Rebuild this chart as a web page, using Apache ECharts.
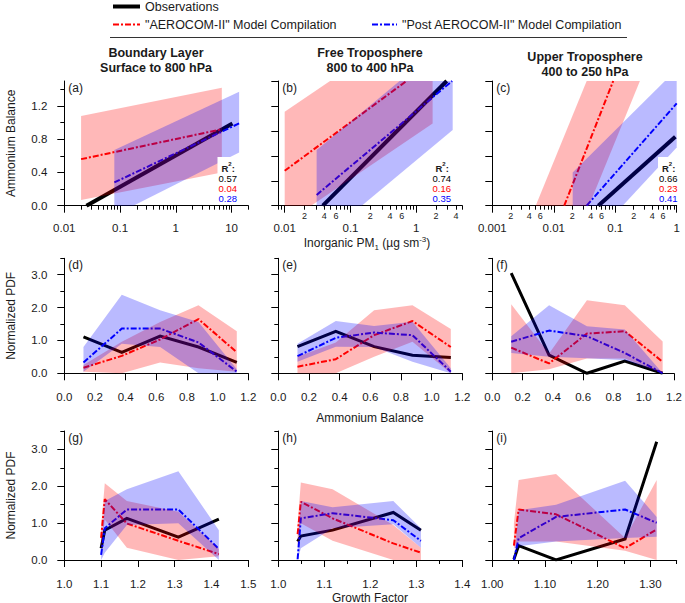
<!DOCTYPE html>
<html>
<head>
<meta charset="utf-8">
<title>Ammonium balance and growth factor</title>
<script src="https://cdn.jsdelivr.net/npm/echarts@6/dist/echarts.min.js"></script>
<style>
html,body{margin:0;padding:0;background:#fff;}
#chart{width:685px;height:603px;}
</style>
</head>
<body>
<div id="chart"></div>
<script>
// ================= DATA =================
// Row 1 : Ammonium Balance vs Inorganic PM1 (fit lines and fit ranges)
const aObsX = [0.025, 10.4],  aObsY = [0, 0.99];
const aAeroX = [0.02, 6.7],   aAeroY = [0.56, 0.92];
const aPostX = [0.079, 13.7], aPostY = [0.28, 0.99];
const aAeroBandX = [0.02, 0.02, 6.7, 6.7],             aAeroBandY = [0.07, 1.08, 1.42, 0.40];
const aPostBandX = [0.079, 0.079, 13.7, 13.7, 0.173],  aPostBandY = [0, 0.67, 1.37, 0.64, 0];
const aR2 = ['0.57', '0.04', '0.28'];

const bObsX = [0.038, 2.9],   bObsY = [0, 1.5];
const bAeroX = [0.01, 0.71],  bAeroY = [0.42, 1.5];
const bPostX = [0.0306, 3.5], bPostY = [0.13, 1.5];
const bAeroBandX = [0.01, 0.01, 0.0489, 1.77, 1.77, 0.0252],   bAeroBandY = [0, 1.13, 1.5, 1.5, 0.99, 0];
const bPostBandX = [0.0306, 0.0306, 0.558, 3.57, 3.57, 0.148], bPostBandY = [0, 0.67, 1.5, 1.5, 0.91, 0];
const bR2 = ['0.74', '0.16', '0.35'];

const cObsX = [0.053, 0.95],   cObsY = [0, 0.83];
const cAeroX = [0.0148, 0.0927], cAeroY = [0, 1.5];
const cPostX = [0.0343, 1.0],  cPostY = [0, 1.23];
const cAeroBandX = [0.00508, 0.0343, 0.252, 0.0373],        cAeroBandY = [0, 1.5, 1.5, 0];
const cPostBandX = [0.0203, 0.0203, 0.643, 1, 1, 0.132],    cPostBandY = [0, 0.40, 1.5, 1.5, 0.70, 0];
const cR2 = ['0.66', '0.23', '0.41'];

// Row 2 : Normalized PDF vs Ammonium Balance
const abBins = [0.125, 0.375, 0.625, 0.875, 1.125];
const dObs  = [1.11, 0.64, 1.13, 0.80, 0.33];
const dAero = [0.17, 0.53, 1.03, 1.65, 0.64];
const dPost = [0.33, 1.36, 1.36, 0.94, 0.05];
const dAeroHi = [0.25, 0.96, 1.56, 2.07, 1.28], dAeroLo = [0.05, 0.0, 0.33, 0.15, 0.05];
const dPostHi = [0.80, 2.39, 1.92, 1.56, 0.12], dPostLo = [0.05, 0.90, 0.80, 0.0, 0.0];

const eObs  = [0.81, 1.28, 0.81, 0.55, 0.48];
const eAero = [0.20, 0.43, 1.16, 1.59, 0.80];
const ePost = [0.52, 1.08, 1.24, 1.16, 0.05];
const eAeroHi = [0.50, 0.94, 1.92, 2.07, 1.35], eAeroLo = [0.0, 0.0, 0.50, 0.96, 0.0];
const ePostHi = [0.90, 1.59, 1.44, 1.57, 0.15], ePostLo = [0.35, 0.81, 0.80, 0.35, 0.0];

const fObs  = [3.05, 0.55, 0.0, 0.37, 0.0];
const fAero = [0.78, 0.30, 1.21, 1.28, 0.35];
const fPost = [0.96, 1.30, 1.13, 0.62, 0.0];
const fAeroHi = [2.10, 0.60, 2.22, 2.07, 0.97], fAeroLo = [0.0, 0.12, 0.45, 0.45, 0.0];
const fPostHi = [1.13, 2.07, 1.43, 1.33, 0.0],  fPostLo = [0.62, 0.50, 0.46, 0.40, 0.0];

// Row 3 : Normalized PDF vs Growth Factor
const gGF   = [1.10, 1.11, 1.17, 1.31, 1.42];
const gObs  = [0.32, 0.81, 1.13, 0.62, 1.11];
const gAero = [0.60, 1.65, 0.99, 0.52, 0.16];
const gPost = [0.14, 0.86, 1.37, 1.37, 0.30];
const gAeroHi = [0.90, 2.08, 1.60, 1.31, 0.30], gAeroLo = [0.30, 1.10, 0.33, 0.0, 0.10];
const gPostHi = [0.30, 1.60, 1.92, 2.41, 0.81], gPostLo = [0.0, 0.20, 0.95, 1.00, 0.0];

const hGF   = [1.042, 1.049, 1.118, 1.25, 1.31];
const hObs  = [0.50, 0.65, 0.81, 1.29, 0.81];
const hAero = [0.70, 1.58, 1.13, 0.45, 0.20];
const hPost = [0.02, 1.13, 1.27, 1.08, 0.52];
const hAeroHi = [1.00, 2.10, 1.92, 0.95, 0.33], hAeroLo = [0.40, 1.00, 0.52, 0.0, 0.0];
const hPostHi = [0.30, 1.60, 1.43, 1.60, 0.86], hPostLo = [0.0, 0.32, 0.86, 0.97, 0.33];

const iGF   = [1.041, 1.05, 1.121, 1.252, 1.312];
const iObs  = [0.02, 0.39, 0.0, 0.57, 3.21];
const iAero = [0.39, 1.37, 1.24, 0.32, 0.83];
const iPost = [0.0, 0.59, 1.17, 1.37, 1.01];
const iAeroHi = [1.00, 2.17, 2.33, 0.60, 2.17], iAeroLo = [0.30, 0.50, 0.50, 0.25, 0.0];
const iPostHi = [0.0, 1.35, 1.50, 2.15, 1.17],  iPostLo = [0.0, 0.37, 0.50, 0.60, 0.63];

// Tick labels
const aXTickLabels = [0.01, 0.1, 1, 10];
const bXTickLabels = [0.01, 0.02, 0.04, 0.06, 0.1, 0.2, 0.4, 0.6, 1, 2, 4];
const cXTickLabels = [0.001, 0.002, 0.004, 0.006, 0.01, 0.02, 0.04, 0.06, 0.1, 0.2, 0.4, 0.6, 1];
const row1YTickLabels = [0, 0.4, 0.8, 1.2];
const row1YMinor = [0.2, 0.6, 1.0, 1.4];
const row1YTicksBC = [0, 0.3, 0.6, 0.9, 1.2, 1.5];
const pdfYTickLabels = [0, 1, 2, 3];
const pdfYMinor = [0.5, 1.5, 2.5, 3.5];
const abXTickLabels = [0, 0.2, 0.4, 0.6, 0.8, 1.0, 1.2];
const gXTickLabels = [1.0, 1.1, 1.2, 1.3, 1.4, 1.5];
const hXTickLabels = [1.0, 1.1, 1.2, 1.3, 1.4];
const hXMinor = [1.05, 1.15, 1.25, 1.35];
const iXTickLabels = [1.0, 1.1, 1.2, 1.3];
const iXMinor = [1.05, 1.15, 1.25, 1.35];

// ================= STYLE / LAYOUT =================
const FONT = '"Liberation Sans", Arial, Helvetica, sans-serif';
const TXT = '#1a1a1a';
const RED = '#ff0000', BLUE = '#0000ff';
const RED_BAND = 'rgba(255,0,0,0.28)', BLUE_BAND = 'rgba(0,0,255,0.27)';
const OBS_STYLE = {color: '#000', width: 4, cap: 'butt', join: 'miter'};
const AERO_STYLE = {color: RED, width: 2, type: [6, 2, 2, 2]};
const POST_STYLE = {color: BLUE, width: 2, type: [6, 2, 2, 2]};

function logTicks(min, max, major) {
  const out = [];
  for (let e = -4; e <= 2; e++) {
    for (let m = 1; m <= 9; m++) {
      if (major !== (m === 1)) continue;
      const v = Number((m * Math.pow(10, e)).toPrecision(6));
      if (v >= min * 0.9999 && v <= max * 1.0001) out.push(v);
    }
  }
  return out;
}
function logFmt(v) {
  const e = Math.round(Math.log10(v));
  const m = v / Math.pow(10, e);
  if (Math.abs(m - 1) < 1e-6) return '{M|' + (e < 0 ? v.toFixed(-e) : String(Math.round(v))) + '}';
  const f = Math.floor(Math.log10(v) + 1e-9);
  return '{m|' + Math.round(v / Math.pow(10, f)) + '}';
}
const fmt1 = v => Number(v).toFixed(1);
const fmt2 = v => Number(v).toFixed(2);

const rowTop = [81, 258.3, 431], rowH = [124.7, 115, 129];
const colLeft = [64.3, 278.3, 492.3], colW = [184, 184, 184.4];

const panels = [
  {x: {type: 'log', min: 0.01, max: 20, major: logTicks(0.01, 20, true), minor: logTicks(0.01, 20, false), labels: aXTickLabels, fmt: logFmt, log: true},
   y: {min: 0, max: 1.5, major: row1YTickLabels, minor: row1YMinor, labels: row1YTickLabels, fmt: fmt1}},
  {x: {type: 'log', min: 0.008, max: 5, major: logTicks(0.008, 5, true), minor: logTicks(0.008, 5, false), labels: bXTickLabels, fmt: logFmt, log: true},
   y: {min: 0, max: 1.5, major: row1YTicksBC, minor: [], labels: [], fmt: fmt1}},
  {x: {type: 'log', min: 0.001, max: 1, major: logTicks(0.001, 1, true), minor: logTicks(0.001, 1, false), labels: cXTickLabels, fmt: logFmt, log: true},
   y: {min: 0, max: 1.5, major: row1YTicksBC, minor: [], labels: [], fmt: fmt1}},
  {x: {type: 'value', min: 0, max: 1.2, major: abXTickLabels, minor: [], labels: abXTickLabels, fmt: fmt1},
   y: {min: 0, max: 3.5, major: pdfYTickLabels, minor: pdfYMinor, labels: pdfYTickLabels, fmt: fmt1}},
  {x: {type: 'value', min: 0, max: 1.2, major: abXTickLabels, minor: [], labels: abXTickLabels, fmt: fmt1},
   y: {min: 0, max: 3.5, major: pdfYTickLabels, minor: pdfYMinor, labels: [], fmt: fmt1}},
  {x: {type: 'value', min: 0, max: 1.2, major: abXTickLabels, minor: [], labels: abXTickLabels, fmt: fmt1},
   y: {min: 0, max: 3.5, major: pdfYTickLabels, minor: pdfYMinor, labels: [], fmt: fmt1}},
  {x: {type: 'value', min: 1.0, max: 1.5, major: gXTickLabels, minor: [], labels: gXTickLabels, fmt: fmt1},
   y: {min: 0, max: 3.5, major: pdfYTickLabels, minor: pdfYMinor, labels: pdfYTickLabels, fmt: fmt1}},
  {x: {type: 'value', min: 1.0, max: 1.4, major: hXTickLabels, minor: hXMinor, labels: hXTickLabels, fmt: fmt1},
   y: {min: 0, max: 3.5, major: pdfYTickLabels, minor: pdfYMinor, labels: [], fmt: fmt1}},
  {x: {type: 'value', min: 1.0, max: 1.35, major: iXTickLabels, minor: iXMinor, labels: iXTickLabels, fmt: fmt2},
   y: {min: 0, max: 3.5, major: pdfYTickLabels, minor: pdfYMinor, labels: [], fmt: fmt1}}
];

const grids = [], xAxes = [], yAxes = [];
panels.forEach((p, gi) => {
  const r = Math.floor(gi / 3), c = gi % 3;
  grids.push({left: colLeft[c], top: rowTop[r], width: colW[c], height: rowH[r], containLabel: false});
  const xl = p.x;
  const xLabel = xl.labels.length ? (xl.log ? {
      show: true, customValues: xl.labels, formatter: xl.fmt, margin: 4, color: TXT, fontFamily: FONT,
      rich: {M: {fontSize: 11.5, lineHeight: 37, color: TXT, fontFamily: FONT}, m: {fontSize: 9, lineHeight: 12, color: TXT, fontFamily: FONT}}
    } : {show: true, customValues: xl.labels, formatter: xl.fmt, margin: 18, fontSize: 11.5, color: TXT, fontFamily: FONT}) : {show: false};
  const xBase = {type: xl.type, gridIndex: gi, min: xl.min, max: xl.max, position: 'bottom', splitLine: {show: false}};
  if (xl.log) xBase.logBase = 10;
  xAxes.push(Object.assign({}, xBase, {
    axisLine: {show: true, onZero: false, lineStyle: {color: '#000', width: 1}},
    axisTick: {show: true, customValues: xl.major, length: 7, lineStyle: {color: '#000', width: 1}},
    axisLabel: xLabel
  }));
  xAxes.push(Object.assign({}, xBase, {
    axisLine: {show: false},
    axisTick: xl.minor.length ? {show: true, customValues: xl.minor, length: 4, lineStyle: {color: '#000', width: 1}} : {show: false},
    axisLabel: {show: false}
  }));
  const yl = p.y;
  const yBase = {type: 'value', gridIndex: gi, min: yl.min, max: yl.max, position: 'left', splitLine: {show: false}};
  yAxes.push(Object.assign({}, yBase, {
    axisLine: {show: true, onZero: false, lineStyle: {color: '#000', width: 1}},
    axisTick: {show: true, customValues: yl.major, length: 7, lineStyle: {color: '#000', width: 1}},
    axisLabel: yl.labels.length ? {show: true, customValues: yl.labels, formatter: yl.fmt, margin: 17, fontSize: 11.5, color: TXT, fontFamily: FONT} : {show: false}
  }));
  yAxes.push(Object.assign({}, yBase, {
    axisLine: {show: false},
    axisTick: yl.minor.length ? {show: true, customValues: yl.minor, length: 4, lineStyle: {color: '#000', width: 1}} : {show: false},
    axisLabel: {show: false}
  }));
});

function lineS(gi, name, xs, ys, style) {
  return {type: 'line', name, xAxisIndex: 2 * gi, yAxisIndex: 2 * gi, data: xs.map((x, i) => [x, ys[i]]),
    symbol: 'none', lineStyle: style, z: 2, silent: true, animation: false, clip: true};
}
function polyS(gi, xs, ys, color) {
  const pts = xs.map((x, i) => [x, ys[i]]);
  return {type: 'custom', xAxisIndex: 2 * gi, yAxisIndex: 2 * gi, z: 3, silent: true, animation: false,
    data: pts, encode: {x: 0, y: 1},
    renderItem: function (params, api) {
      if (params.dataIndex !== 0) return null;
      return {type: 'polygon', shape: {points: pts.map(p => api.coord(p))}, style: {fill: color, stroke: null}};
    }};
}
function bandS(gi, xs, hi, lo, color) {
  return polyS(gi, xs.concat(xs.slice().reverse()), hi.concat(lo.slice().reverse()), color);
}

const series = [];
function row1(gi, ox, oy, ax, ay, px, py, abx, aby, pbx, pby) {
  series.push(lineS(gi, 'Observations', ox, oy, OBS_STYLE));
  series.push(lineS(gi, 'AEROCOM-II', ax, ay, AERO_STYLE));
  series.push(lineS(gi, 'Post AEROCOM-II', px, py, POST_STYLE));
  series.push(polyS(gi, abx, aby, RED_BAND));
  series.push(polyS(gi, pbx, pby, BLUE_BAND));
}
row1(0, aObsX, aObsY, aAeroX, aAeroY, aPostX, aPostY, aAeroBandX, aAeroBandY, aPostBandX, aPostBandY);
row1(1, bObsX, bObsY, bAeroX, bAeroY, bPostX, bPostY, bAeroBandX, bAeroBandY, bPostBandX, bPostBandY);
row1(2, cObsX, cObsY, cAeroX, cAeroY, cPostX, cPostY, cAeroBandX, cAeroBandY, cPostBandX, cPostBandY);

function pdf(gi, xs, obs, aero, post, aHi, aLo, pHi, pLo) {
  series.push(lineS(gi, 'Observations', xs, obs, Object.assign({}, OBS_STYLE, {width: 3})));
  series.push(lineS(gi, 'AEROCOM-II', xs, aero, AERO_STYLE));
  series.push(lineS(gi, 'Post AEROCOM-II', xs, post, POST_STYLE));
  series.push(bandS(gi, xs, aHi, aLo, RED_BAND));
  series.push(bandS(gi, xs, pHi, pLo, BLUE_BAND));
}
pdf(3, abBins, dObs, dAero, dPost, dAeroHi, dAeroLo, dPostHi, dPostLo);
pdf(4, abBins, eObs, eAero, ePost, eAeroHi, eAeroLo, ePostHi, ePostLo);
pdf(5, abBins, fObs, fAero, fPost, fAeroHi, fAeroLo, fPostHi, fPostLo);
pdf(6, gGF, gObs, gAero, gPost, gAeroHi, gAeroLo, gPostHi, gPostLo);
pdf(7, hGF, hObs, hAero, hPost, hAeroHi, hAeroLo, hPostHi, hPostLo);
pdf(8, iGF, iObs, iAero, iPost, iAeroHi, iAeroLo, iPostHi, iPostLo);

// ================= TEXT / ANNOTATIONS =================
function T(x, y, text, st, extra) {
  return Object.assign({type: 'text', x, y, z: 100, silent: true,
    style: Object.assign({text, fill: TXT, fontSize: 12, fontFamily: FONT, align: 'left', verticalAlign: 'middle'}, st || {})}, extra || {});
}
function L(x1, y1, x2, y2, st) {
  return {type: 'line', z: 100, silent: true, shape: {x1, y1, x2, y2}, style: Object.assign({stroke: '#000', lineWidth: 1}, st)};
}
const graphics = [];
// legend
graphics.push(L(113, 6.5, 140, 6.5, {stroke: '#000', lineWidth: 4}));
graphics.push(T(145, 7, 'Observations', {fontSize: 12.5}));
graphics.push(L(113, 24.5, 140, 24.5, {stroke: RED, lineWidth: 2, lineDash: [6, 2, 2, 2]}));
graphics.push(T(145, 25, '"AEROCOM-II" Model Compilation', {fontSize: 12.5}));
graphics.push(L(372, 24.5, 397, 24.5, {stroke: BLUE, lineWidth: 2, lineDash: [6, 2, 2, 2]}));
graphics.push(T(402, 25, '"Post AEROCOM-II" Model Compilation', {fontSize: 12.5}));
graphics.push(L(110, 37.5, 627, 37.5, {stroke: '#333', lineWidth: 1}));
// column titles
const titleSt = {fontSize: 12.5, fontWeight: 'bold', align: 'center'};
graphics.push(T(156, 53, 'Boundary Layer', titleSt));
graphics.push(T(156, 68, 'Surface to 800 hPa', titleSt));
graphics.push(T(370, 53, 'Free Troposphere', titleSt));
graphics.push(T(370, 68, '800 to 400 hPa', titleSt));
graphics.push(T(585, 57, 'Upper Troposphere', titleSt));
graphics.push(T(585, 72, '400 to 250 hPa', titleSt));
// panel letters
const letters = ['(a)', '(b)', '(c)', '(d)', '(e)', '(f)', '(g)', '(h)', '(i)'];
letters.forEach((t, gi) => {
  const r = Math.floor(gi / 3), c = gi % 3;
  graphics.push(T(colLeft[c] + 4, rowTop[r] + 7, t, {fontSize: 12}));
});
// R^2 boxes
function r2Box(x0, vals) {
  graphics.push({type: 'rect', z: 90, silent: true, shape: {x: x0 - 1, y: 157, width: 22, height: 47}, style: {fill: '#fff'}});
  graphics.push(T(x0 + 3, 168, '{b|R}{s|2}{b|:}', {rich: {
    b: {fontSize: 9.5, fontWeight: 'bold', fill: TXT, fontFamily: FONT, lineHeight: 14},
    s: {fontSize: 6, fontWeight: 'bold', fill: TXT, fontFamily: FONT, lineHeight: 8, verticalAlign: 'top'}}}));
  const cols = ['#000', RED, BLUE];
  vals.forEach((v, k) => graphics.push(T(x0, 178.5 + 10 * k, v, {fontSize: 9.5, fill: cols[k]})));
}
r2Box(218.5, aR2);
r2Box(432.5, bR2);
r2Box(659, cR2);
// axis titles
graphics.push(T(11, 143.3, 'Ammonium Balance', {align: 'center'}, {rotation: Math.PI / 2}));
graphics.push(T(11, 315.8, 'Normalized PDF', {align: 'center'}, {rotation: Math.PI / 2}));
graphics.push(T(11, 495.5, 'Normalized PDF', {align: 'center'}, {rotation: Math.PI / 2}));
graphics.push(T(367, 243, '{n|Inorganic PM}{sub|1}{n| (µg sm}{sup|-3}{n|)}', {align: 'center', rich: {
  n: {fontSize: 12, fill: TXT, fontFamily: FONT, lineHeight: 16},
  sub: {fontSize: 8, fill: TXT, fontFamily: FONT, lineHeight: 10, verticalAlign: 'bottom'},
  sup: {fontSize: 8, fill: TXT, fontFamily: FONT, lineHeight: 9, verticalAlign: 'top'}}}));
graphics.push(T(370, 417.7, 'Ammonium Balance', {align: 'center'}));
graphics.push(T(370, 597.5, 'Growth Factor', {align: 'center'}));

const chart = echarts.init(document.getElementById('chart'), null, {renderer: 'svg', width: 685, height: 603});
chart.setOption({
  animation: false,
  backgroundColor: '#fff',
  textStyle: {fontFamily: FONT},
  grid: grids,
  xAxis: xAxes,
  yAxis: yAxes,
  series: series,
  graphic: {elements: graphics}
});
</script>
</body>
</html>
